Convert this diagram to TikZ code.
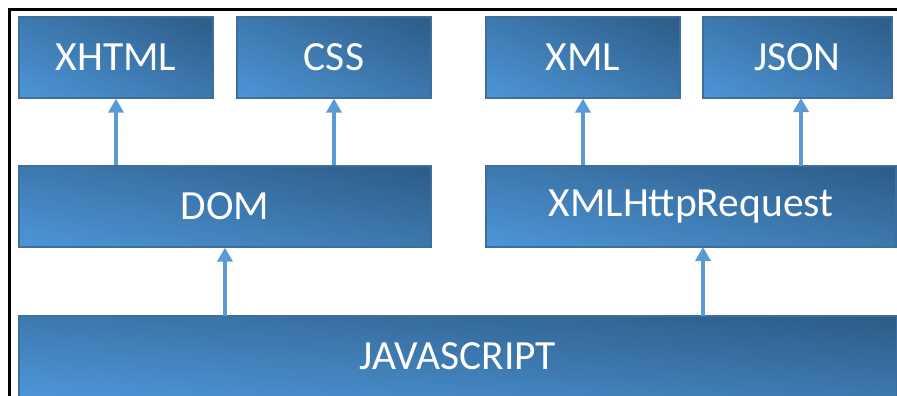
\documentclass[tikz,border=0pt]{standalone}
\usepackage{fontspec}
\setmainfont{Carlito}
\usetikzlibrary{arrows.meta}
\definecolor{boxdark}{RGB}{45,92,135}
\definecolor{boxlight}{RGB}{78,150,216}
\definecolor{boxedge}{RGB}{62,110,156}
\definecolor{arrowblue}{RGB}{91,155,213}
\tikzset{
  blk/.style={rectangle, inner sep=0pt, draw=boxedge, line width=1.3pt,
    path picture={
      \shade[top color=boxdark, bottom color=boxlight]
        (path picture bounding box.south west) rectangle (path picture bounding box.north east);
      \shade[left color=boxlight, right color=boxdark, fill opacity=0.5]
        (path picture bounding box.south west) rectangle (path picture bounding box.north east);
    },
    text=white, font=\fontsize{41.5}{45}\selectfont, minimum height=81pt},
  uparrow/.style={draw=arrowblue, line width=3.6pt, -{Triangle[width=15pt,length=14pt]}},
  frame/.style={draw=black, line width=3pt}
}
\begin{document}
\begin{tikzpicture}[x=1pt,y=-1pt]
\useasboundingbox (0,0) rectangle (897,396);
\begin{scope}
\clip (0,0) rectangle (897,396);
\coordinate (fa) at (9.5,396);
\coordinate (fb) at (9.5,9.5);
\coordinate (fc) at (897,9.5);
\draw[frame] (fa) -- (fb) -- (fc);
\node[blk, minimum width=194pt] (xhtml) at (116,57.5) {XHTML};
\node[blk, minimum width=194pt] (css) at (334,57.5) {CSS};
\node[blk, minimum width=194pt] (xml) at (583,57.5) {XML};
\node[blk, minimum width=189pt] (json) at (797.5,57.5) {JSON};
\node[blk, minimum width=412pt] (dom) at (225,206.5) {DOM};
\node[blk, minimum width=410pt] (xhr) at (691,206.5) {XMLHttpRequest};
\node[blk, minimum width=878pt] (js) at (458,356.5) {JAVASCRIPT};
\draw[uparrow] (dom.north -| xhtml.south) -- (xhtml.south);
\draw[uparrow] (dom.north -| css.south) -- (css.south);
\draw[uparrow] (xhr.north -| xml.south) -- (xml.south);
\coordinate (jsonfoot) at (801,166);
\coordinate (jsonhead) at (801,98);
\draw[uparrow] (jsonfoot) -- (jsonhead);
\coordinate (domfoot) at (225,316);
\draw[uparrow] (domfoot) -- (dom.south);
\coordinate (xhrfoot) at (703,316);
\coordinate (xhrhead) at (703,247);
\draw[uparrow] (xhrfoot) -- (xhrhead);
\end{scope}
\end{tikzpicture}
\end{document}
